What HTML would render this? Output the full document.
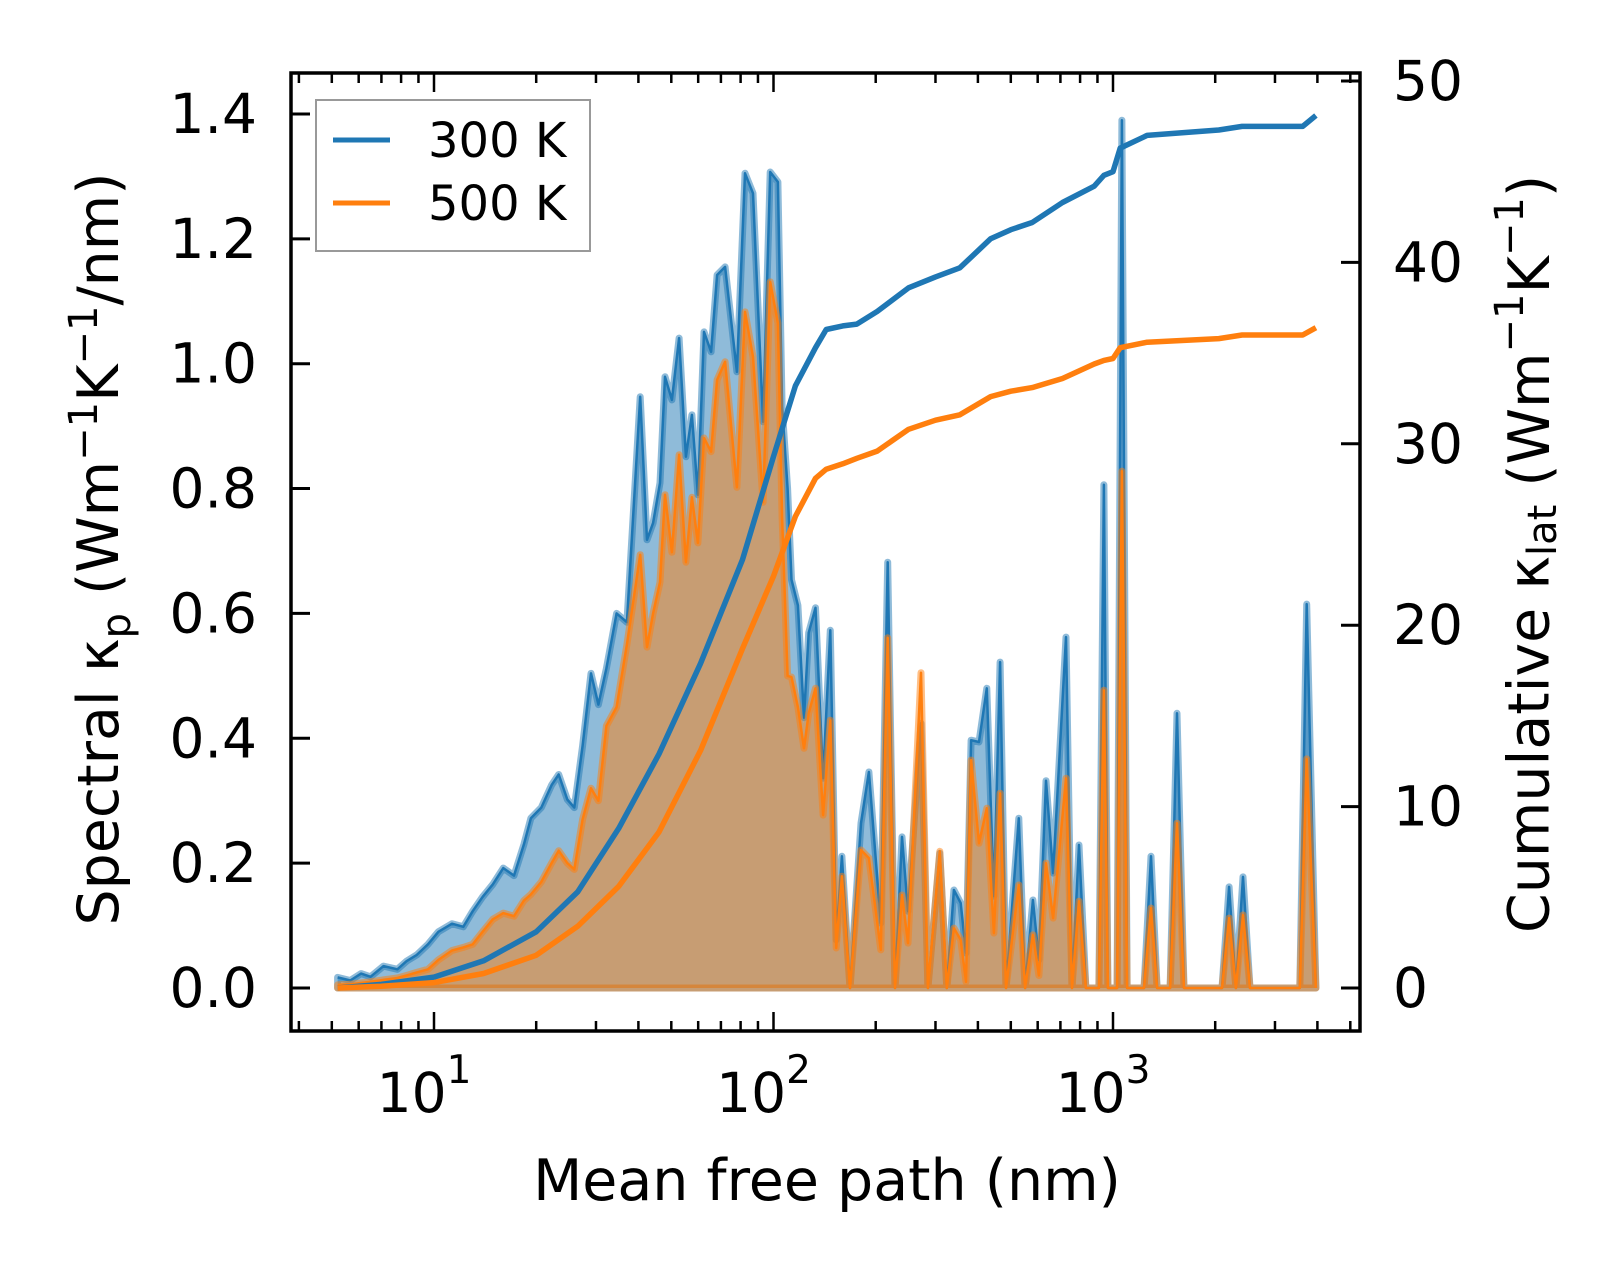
<!DOCTYPE html>
<html><head><meta charset="utf-8"><style>
html,body{margin:0;padding:0;background:#fff;}
svg{display:block;font-family:"DejaVu Sans","Liberation Sans",sans-serif;}
</style></head><body>
<svg id="chart" width="1623" height="1269" viewBox="0 0 1623 1269" xmlns="http://www.w3.org/2000/svg">
<g id="plot"></g>
<g id="axes"></g>
<g>
<rect x="316" y="100" width="274" height="151" fill="#fff" fill-opacity="0.8" stroke="#999" stroke-width="2"/>
<line x1="333" y1="140" x2="390" y2="140" stroke="#1f77b4" stroke-width="5"/>
<text x="428" y="157" font-size="48">300 K</text>
<line x1="333" y1="203" x2="390" y2="203" stroke="#ff7f0e" stroke-width="5"/>
<text x="428" y="220" font-size="48">500 K</text>
</g>
<text x="827" y="1200" font-size="57" text-anchor="middle">Mean free path (nm)</text>
<text transform="translate(118,549) rotate(-90)" font-size="57" text-anchor="middle">Spectral κ<tspan font-size="40" dy="12">p</tspan><tspan dy="-12"> (Wm</tspan><tspan font-size="40" dy="-21">−1</tspan><tspan dy="21">K</tspan><tspan font-size="40" dy="-21">−1</tspan><tspan dy="21">/nm)</tspan></text>
<text transform="translate(1533,554) rotate(-90)" font-size="57" text-anchor="middle" dominant-baseline="middle">Cumulative κ<tspan font-size="40" dy="12">lat</tspan><tspan dy="-12"> (Wm</tspan><tspan font-size="40" dy="-21">−1</tspan><tspan dy="21">K</tspan><tspan font-size="40" dy="-21">−1</tspan><tspan dy="21">)</tspan></text>
</svg>
<script>
const mfp = [5.2,5.67,6.1,6.5,7.1,7.8,8.3,8.9,9.6,10.3,11.3,12.2,13.0,13.9,14.9,16.0,17.2,18.4,19.3,20.7,22.2,23.3,24.7,25.9,27.4,29.0,30.5,32.2,34.5,37.0,40.5,42.4,44.2,46.3,47.9,50.2,52.7,55.2,57.5,59.9,62.4,65.5,68.2,72.0,78.0,82.4,87.0,93.2,97.8,103,106,110,113,118,123,127,133,140,147,153,159,168,181,191,207,217,228,239,249,272,285,309,324,340,356,369,382,403,425,446,465,484,528,551,581,605,635,666,727,757,794,832,909,940,966,1028,1062,1100,1234,1294,1349,1473,1544,1619,2094,2197,2302,2415,2533,3550,3720,3960];
const k300 = [.017,.012,.023,.018,.035,.03,.043,.053,.07,.09,.103,.098,.123,.146,.166,.192,.18,.23,.272,.289,.325,.342,.302,.289,.388,.504,.454,.512,.60,.586,.947,.718,.745,.809,.979,.942,1.041,.851,.918,.79,1.051,1.019,1.142,1.155,.987,1.305,1.273,.907,1.307,1.291,.931,.80,.654,.613,.433,.569,.609,.336,.573,.077,.211,0,.264,.346,.104,.682,0,.242,.123,.424,0,.216,0,.157,.136,.056,.397,.394,.48,.147,.522,0,.272,0,.141,.045,.332,.184,.562,0,.229,0,0,.806,0,0,1.39,0,0,.211,0,0,.44,0,0,.162,0,.178,0,0,.615,0];
const k500 = [.005,.006,.008,.01,.013,.016,.02,.025,.03,.045,.06,.065,.07,.09,.11,.12,.115,.14,.15,.17,.2,.22,.2,.19,.27,.32,.30,.42,.45,.55,.694,.546,.60,.65,.79,.698,.854,.682,.786,.713,.881,.859,.974,1.003,.802,1.083,1.011,.778,1.131,1.065,.754,.50,.498,.45,.384,.44,.48,.277,.429,.064,.179,0,.221,.208,.061,.561,0,.149,.072,.505,0,.219,0,.096,.077,.01,.365,.232,.288,.088,.312,0,.165,0,.085,.02,.2,.112,.336,0,.139,0,0,.477,0,0,.828,0,0,.128,0,0,.264,0,0,.112,0,.117,0,0,.367,0];
const cumMfp = [5.2,7,10,14,20,26.5,35,46,61,81,100,116,133,143,160,176,202,250,300,354,436,500,578,710,880,940,1000,1050,1260,2050,2400,3620,3960];
const cum300 = [0,0.2,0.6,1.5,3.1,5.3,8.8,12.9,17.9,23.6,29.3,33.2,35.3,36.3,36.5,36.6,37.3,38.6,39.2,39.7,41.3,41.8,42.2,43.3,44.2,44.8,45.0,46.3,47.0,47.3,47.5,47.5,48.1];
const cum500 = [0,0.1,0.3,0.8,1.8,3.4,5.6,8.6,13.1,18.7,22.7,26.0,28.1,28.6,28.9,29.2,29.6,30.8,31.3,31.6,32.6,32.9,33.1,33.6,34.4,34.6,34.7,35.3,35.6,35.8,36.0,36.0,36.4];
const leftTicks = ["0.0","0.2","0.4","0.6","0.8","1.0","1.2","1.4"];
const rightTicks = [0,10,20,30,40,50];
const xDecades = [1,2,3];

const X0=291,X1=1360,Y0=73,Y1=1031;
const sx = v => 434 + (Math.log10(v)-1)*339.5;
const syL = v => 988 - v*624.3;
const syR = v => 988 - v*18.14;
const NS="http://www.w3.org/2000/svg";
function mk(tag, parent){const e=document.createElementNS(NS,tag);parent.appendChild(e);return e;}
const plot=document.getElementById('plot'), axes=document.getElementById('axes');

function area(vals,color,name){
  let d=mfp.map((m,i)=>(i?'L':'M')+sx(m).toFixed(1)+','+syL(vals[i]).toFixed(1)).join('');
  d+='L'+sx(mfp[mfp.length-1]).toFixed(1)+','+syL(0)+'L'+sx(mfp[0]).toFixed(1)+','+syL(0)+'Z';
  const p=mk('path',plot);
  
  
  p.setAttribute('d',d);p.setAttribute('fill',color);p.setAttribute('fill-opacity','0.5');
  p.setAttribute('stroke',color);p.setAttribute('stroke-opacity','0.5');p.setAttribute('stroke-width','7');p.setAttribute('stroke-linejoin','round');
  const l=mk('path',plot);
  
  
  l.setAttribute('d',mfp.map((m,i)=>(i?'L':'M')+sx(m).toFixed(1)+','+syL(vals[i]).toFixed(1)).join(''));
  l.setAttribute('fill','none');l.setAttribute('stroke',color);l.setAttribute('stroke-width','2.5');l.setAttribute('stroke-linejoin','round');
}
area(k300,'#1f77b4','spectral-300k');
area(k500,'#ff7f0e','spectral-500k');
function cum(vals,color,name){
  const l=mk('path',plot);
  
  
  l.setAttribute('d',cumMfp.map((m,i)=>(i?'L':'M')+sx(m).toFixed(1)+','+syR(vals[i]).toFixed(1)).join(''));
  l.setAttribute('fill','none');l.setAttribute('stroke',color);l.setAttribute('stroke-width','5.5');l.setAttribute('stroke-linejoin','round');
}
cum(cum300,'#1f77b4','cumulative-300k-line');
cum(cum500,'#ff7f0e','cumulative-500k-line');

function line(x1,y1,x2,y2,w,name){const l=mk('line',axes);
  
  
  l.setAttribute('x1',x1);l.setAttribute('y1',y1);l.setAttribute('x2',x2);l.setAttribute('y2',y2);l.setAttribute('stroke','#000');l.setAttribute('stroke-width',w);}
function txt(x,y,s,anchor,name){const t=mk('text',axes);
  
  
  t.setAttribute('x',x);t.setAttribute('y',y);t.setAttribute('font-size','55');t.setAttribute('text-anchor',anchor);t.setAttribute('dominant-baseline','central');t.textContent=s;return t;}
leftTicks.forEach(s=>{const y=syL(parseFloat(s));line(X0,y,X0+19,y,3,'left-tick');txt(257,y,s,'end','left-tick-label');});
rightTicks.forEach(v=>{const y=syR(v);line(X1-19,y,X1,y,3,'right-tick');txt(1393,y,String(v),'start','right-tick-label');});
for(let e=0;e<=3;e++){for(let m=1;m<10;m++){const v=m*Math.pow(10,e);const x=sx(v);if(x<X0+2||x>X1-2)continue;
  const L=m===1?19:10;line(x,Y1,x,Y1-L,2.5,'x-tick');line(x,Y0,x,Y0+L,2.5,'x-top-tick');}}
xDecades.forEach(d=>{const x=sx(Math.pow(10,d));const t=txt(x-10,1093,'10','middle','x-tick-label');
  const s=mk('tspan',t);s.setAttribute('font-size','39');s.setAttribute('dy','-23');s.textContent=String(d);});
const r=mk('rect',axes);


r.setAttribute('x',X0);r.setAttribute('y',Y0);r.setAttribute('width',X1-X0);r.setAttribute('height',Y1-Y0);r.setAttribute('fill','none');r.setAttribute('stroke','#000');r.setAttribute('stroke-width','3.5');
</script>
</body></html>
